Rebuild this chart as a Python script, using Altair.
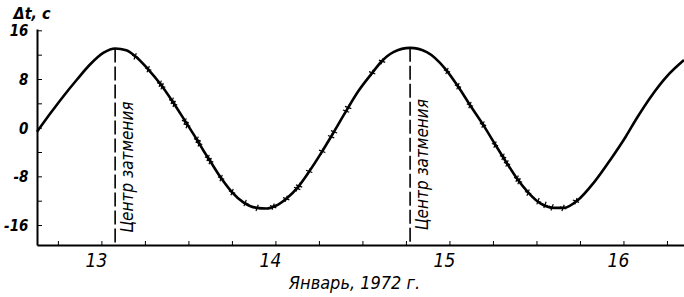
import altair as alt
import pandas as pd

# ---- data ----
curve_day = [12.627, 12.703, 12.78, 12.857, 12.933, 13.01, 13.076, 13.14, 13.197, 13.262,
             13.335, 13.408, 13.473, 13.546, 13.584, 13.622, 13.68, 13.747, 13.813, 13.89,
             13.948, 13.995, 14.063, 14.129, 14.187, 14.264, 14.327, 14.403, 14.474, 14.551,
             14.608, 14.675, 14.771, 14.867, 14.972, 15.048, 15.115, 15.192, 15.269, 15.326,
             15.383, 15.454, 15.522, 15.598, 15.655, 15.732, 15.828, 15.924, 16.01, 16.077,
             16.153, 16.249, 16.345]
curve_dt = [-0.6, 2.4, 5.3, 8.0, 10.5, 12.4, 13.1, 12.8, 11.7, 9.8,
            7.3, 4.3, 1.4, -1.9, -3.7, -5.4, -8.0, -10.5, -12.2, -13.1,
            -13.2, -12.8, -11.5, -9.6, -7.3, -3.9, -0.9, 2.8, 6.1, 9.0,
            11.0, 12.5, 13.2, 12.5, 9.8, 6.8, 3.8, 0.5, -3.1, -5.7,
            -8.2, -10.7, -12.4, -13.1, -13.1, -11.9, -8.9, -5.1, -1.4, 1.8,
            5.1, 8.6, 11.2]

obs_day = [13.191, 13.266, 13.335, 13.346, 13.404, 13.415, 13.478, 13.490, 13.547, 13.559,
           13.610, 13.622, 13.685, 13.748, 13.823, 13.892, 13.984, 14.059, 14.122, 14.133,
           14.191, 14.266, 14.317, 14.334, 14.403, 14.415, 14.553, 14.610, 14.983, 15.046,
           15.115, 15.190, 15.259, 15.305, 15.328, 15.386, 15.397, 15.449, 15.506, 15.546,
           15.587, 15.650, 15.724]
obs_dt = [11.8, 9.7, 7.3, 6.9, 4.5, 4.0, 1.1, 0.5, -1.9, -2.5,
          -4.9, -5.4, -8.2, -10.5, -12.3, -13.1, -12.9, -11.6, -9.9, -9.5,
          -7.1, -3.8, -1.4, -0.6, 2.8, 3.4, 9.1, 11.0, 9.4, 6.9,
          3.8, 0.6, -2.7, -4.7, -5.8, -8.3, -8.7, -10.6, -12.0, -12.6,
          -13.0, -13.1, -12.0]

eclipse_day = [13.076, 14.771]
eclipse_peak = [13.1, 13.2]
eclipse_label = ["Центр затмения", "Центр затмения"]
eclipse_label_dt = [-6.4, -6.0]

x_domain = [12.627, 16.345]
y_domain = [-19.2, 16.3]
x_label_values = [13, 14, 15, 16]
y_label_values = [-16, -8, 0, 8, 16]
x_tick_values = [12.75, 13, 13.25, 13.5, 13.75, 14, 14.25, 14.5, 14.75, 15,
                 15.25, 15.5, 15.75, 16, 16.25]
y_tick_values = [-16, -12, -8, -4, 0, 4, 8, 12, 16]

FONT = "Liberation Sans Narrow, DejaVu Sans Condensed, Liberation Sans, sans-serif"

W, H = 647, 216

X = alt.X(
    "day:Q",
    scale=alt.Scale(domain=x_domain, nice=False, zero=False),
    axis=alt.Axis(
        values=x_label_values, ticks=False, grid=False, domainWidth=2,
        domainColor="black", labelFont=FONT, labelFontSize=19,
        labelFontStyle="italic", labelColor="black", labelOffset=-6, labelPadding=6,
        format="d", title="Январь, 1972 г.", titleFont=FONT, titleFontSize=18,
        titleFontStyle="italic", titleFontWeight="normal", titleColor="black",
        titleX=317, titleY=43, titleBaseline="alphabetic", titleAlign="center",
    ),
)
Y = alt.Y(
    "dt:Q",
    scale=alt.Scale(domain=y_domain, nice=False, zero=False),
    axis=alt.Axis(
        values=y_label_values, ticks=False, grid=False, domainWidth=2,
        domainColor="black", labelFont=FONT, labelFontSize=15,
        labelFontStyle="italic", labelFontWeight="bold", labelColor="black",
        labelPadding=9,
        labelExpr="datum.value < 0 ? '-' + abs(datum.value) : '' + datum.value",
        title="Δt, c", titleFont=FONT, titleFontSize=16, titleFontStyle="italic",
        titleFontWeight="bold", titleColor="black", titleAngle=0,
        titleX=-24, titleY=-11, titleAlign="left", titleBaseline="alphabetic",
    ),
)

curve_df = pd.DataFrame({"day": curve_day, "dt": curve_dt})
obs_df = pd.DataFrame({"day": obs_day, "dt": obs_dt})
ecl_df = pd.DataFrame({"day": eclipse_day, "dt": eclipse_peak,
                       "dt2": [y_domain[0]] * len(eclipse_day)})
lab_df = pd.DataFrame({"day": eclipse_day, "dt": eclipse_label_dt, "label": eclipse_label})
xt_df = pd.DataFrame({"day": x_tick_values})
yt_df = pd.DataFrame({"dt": y_tick_values})

curve = alt.Chart(curve_df).mark_line(
    interpolate="monotone", color="black", strokeWidth=2.6
).encode(x=X, y=Y)

obs = alt.Chart(obs_df).mark_point(
    shape="M0,-1L0,1M-1,0L1,0", size=45, filled=False, color="black",
    strokeWidth=1.2, opacity=1, angle=20
).encode(x=X, y=Y)

ecl = alt.Chart(ecl_df).mark_rule(
    color="black", strokeWidth=1.6, strokeDash=[14, 4]
).encode(x=X, y=Y, y2="dt2:Q")

labels = alt.Chart(lab_df).mark_text(
    angle=270, align="center", baseline="middle", dy=13, font=FONT,
    fontSize=17, fontStyle="italic", color="black"
).encode(x=X, y=Y, text="label:N")

xticks = alt.Chart(xt_df).mark_rule(color="black", strokeWidth=1).encode(
    x=X, y=alt.value(H), y2=alt.value(H - 4)
)
yticks = alt.Chart(yt_df).mark_rule(color="black", strokeWidth=1).encode(
    y=Y, x=alt.value(0), x2=alt.value(5)
)

chart = alt.layer(curve, ecl, obs, labels, xticks, yticks).properties(
    width=W, height=H,
    autosize=alt.AutoSizeParams(type="none"),
    padding={"left": 37, "top": 29, "right": 0, "bottom": 52},
    background="white",
).configure_view(stroke=None)

chart.save("out.html", embed_options={"renderer": "svg", "actions": False})
